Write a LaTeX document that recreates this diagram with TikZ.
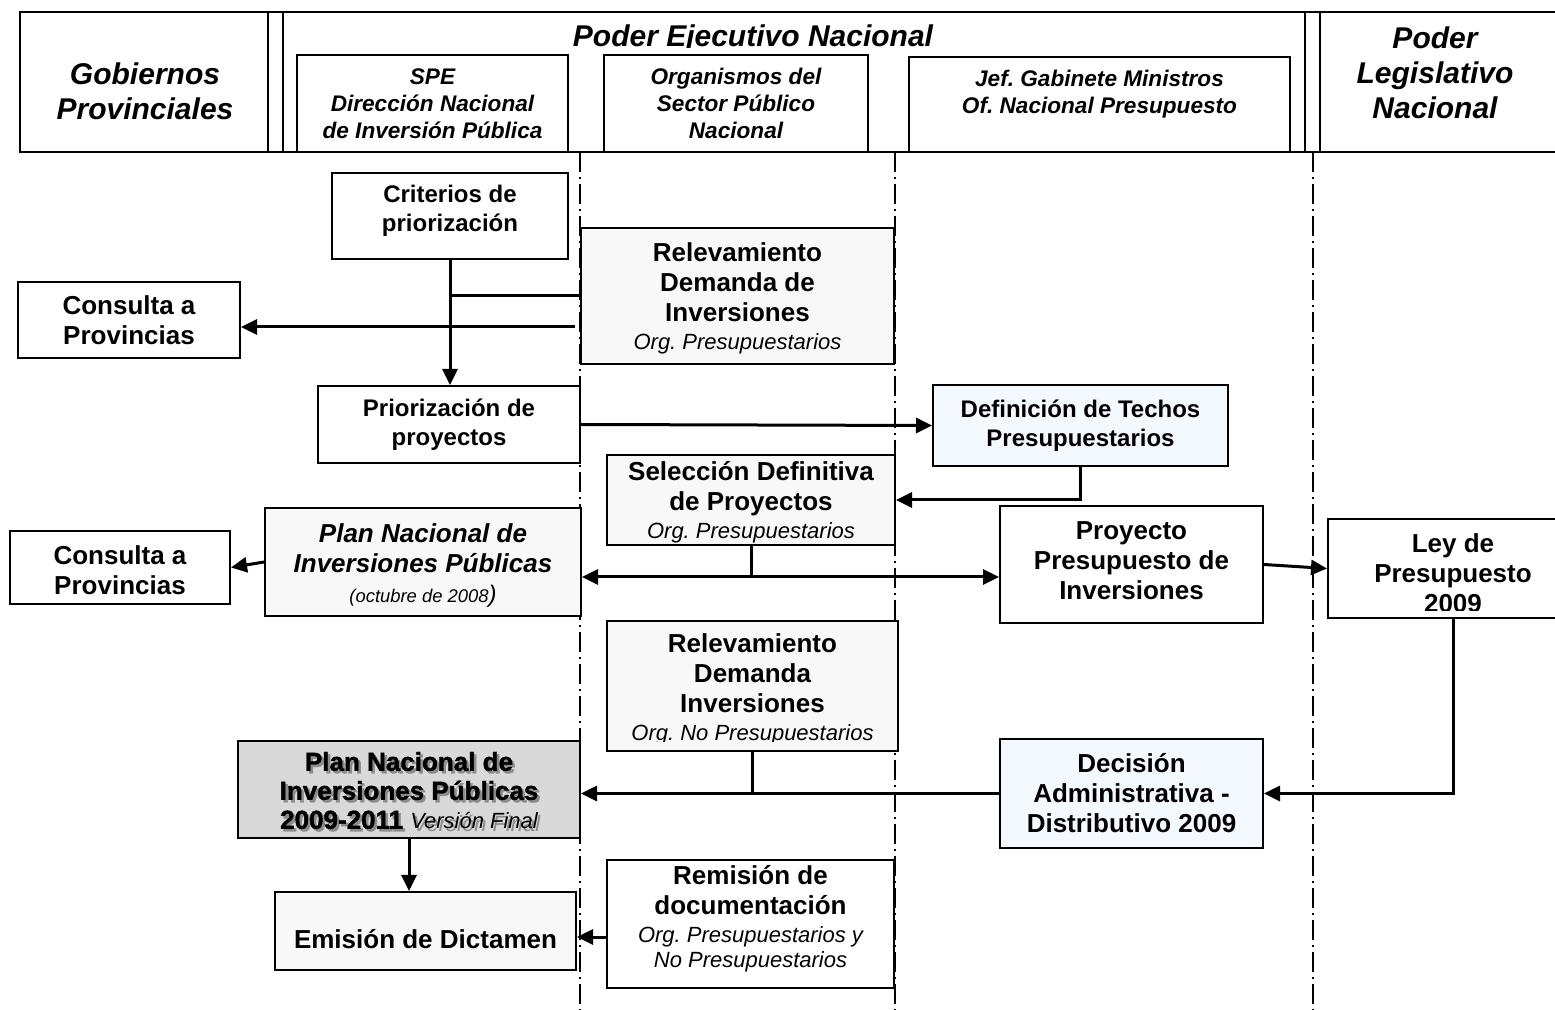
\documentclass[tikz,border=0pt]{standalone}
\usepackage{fontspec}
\setmainfont{Liberation Sans}
\newfontfamily\heavyfont[BoldFeatures={FakeBold=1.5}]{Liberation Sans}
\usetikzlibrary{arrows.meta,calc}
\definecolor{lgray}{RGB}{248,248,248}
\definecolor{lblue}{RGB}{244,249,255}
\definecolor{mgray}{RGB}{217,217,217}
\newcommand\fB{\fontsize{13}{15}\selectfont\bfseries}
\newcommand\fC{\fontsize{12}{14.5}\selectfont\bfseries}
\newcommand\fI{\fontsize{11}{14}\selectfont\mdseries\itshape}
\newcommand\fH{\fontsize{15}{17.5}\selectfont\bfseries\itshape}
\newcommand\fS{\fontsize{11.3}{13.5}\selectfont\bfseries\itshape}
\newcommand\fX{\heavyfont\fontsize{13}{14.5}\selectfont\bfseries}
\frenchspacing
\begin{document}
\frenchspacing
\begin{tikzpicture}[x=0.5pt,y=-0.5pt,
  box/.style={draw, line width=1pt, inner sep=0pt, align=center, font=\fB},
  conn/.style={line width=1.5pt},
  arr/.style={conn, -{Triangle[length=8pt,width=7.5pt]}},
  arrboth/.style={conn, {Triangle[length=8pt,width=7.5pt]}-{Triangle[length=8pt,width=7.5pt]}},
  lane/.style={line width=0.7pt, dash pattern=on 10pt off 2.5pt on 1pt off 2.5pt},
  hdr/.style={line width=1pt},
  txt/.style={inner sep=0pt, align=center, font=\fB}]
\useasboundingbox (0,0) rectangle (1555,1010);
\fill[white] (0,0) rectangle (1555,1010);

% swimlane separators
\coordinate (la1) at (580,152); \coordinate (lb1) at (580,1010);
\coordinate (la2) at (895,152); \coordinate (lb2) at (895,1010);
\coordinate (la3) at (1313,152); \coordinate (lb3) at (1313,1010);
\draw[lane] (la1) -- (lb1);
\draw[lane] (la2) -- (lb2);
\draw[lane] (la3) -- (lb3);

% header frame
\draw[hdr] (1560,12) -- (20,12) -- (20,152) -- (1560,152);
\draw[hdr] (268,12) -- (268,152);
\draw[hdr] (283,12) -- (283,152);
\draw[hdr] (1305,12) -- (1305,152);
\draw[hdr] (1320,12) -- (1320,152);

\node[txt, font=\fH] (gob) at (145,91) {Gobiernos\\Provinciales};
\node[txt, font=\fH] (pln) at (1435,73) {Poder\\Legislativo\\Nacional};
\begin{scope}
  \clip (283,12) rectangle (1305,48);
  \node[txt, font=\fH, anchor=base] (pen) at (753,47) {Poder Ejecutivo Nacional};
\end{scope}

\node[box, font=\fS, minimum width=135.5pt, minimum height=48.5pt] (spe) at (432.5,103.5) {SPE\\Dirección Nacional\\de Inversión Pública};
\node[box, font=\fS, minimum width=132pt, minimum height=48.5pt] (org) at (736,103.5) {Organismos del\\Sector Público\\Nacional};
\node[box, minimum width=190.5pt, minimum height=47.5pt] (jef) at (1099.5,104.5) {};
\node[txt, font=\fS] (jeft) at (1099.5,94) {Jef. Gabinete Ministros\\Of. Nacional Presupuesto};

% boxes
\node[box, fill=white, minimum width=118pt, minimum height=43pt] (crit) at (450,216) {};
\node[txt, font=\fC] (critt) at (450,211) {Criterios de\\priorización};
\node[box, fill=lgray, minimum width=156.5pt, minimum height=68pt] (rel1) at (737.5,296) {};
\node[txt] (rel1t) at (737.5,298) {Relevamiento\\Demanda de\\Inversiones\\[-1pt]{\fI Org. Presupuestarios}};
\node[box, fill=white, minimum width=111pt, minimum height=38pt] (cons1) at (129,320) {Consulta a\\Provincias};
\node[box, font=\fC, fill=white, minimum width=131pt, minimum height=38.5pt] (prio) at (449,424.5) {Priorización de\\proyectos};
\node[box, font=\fC, fill=lblue, minimum width=147.5pt, minimum height=40.5pt] (defi) at (1080.5,425.5) {Definición de Techos\\Presupuestarios};
\node[box, fill=lgray, minimum width=144pt, minimum height=45pt] (sel) at (751,500) {};
\node[txt] (selt) at (751,502) {Selección Definitiva\\de Proyectos\\[-1pt]{\fI Org. Presupuestarios}};
\node[box, fill=lgray, minimum width=158pt, minimum height=54pt] (plan1) at (423,562) {};
\node[txt] (plan1t) at (423,566) {{\itshape Plan Nacional de}\\{\itshape Inversiones Públicas}\\{\fontsize{9.2}{14}\selectfont\mdseries\itshape (octubre de 2008}{\fontsize{12}{14}\selectfont\mdseries\itshape )}};
\node[box, fill=white, minimum width=110pt, minimum height=36.5pt] (cons2) at (120,567.5) {};
\node[txt] (cons2t) at (120,570) {Consulta a\\Provincias};
\node[box, fill=white, minimum width=131.5pt, minimum height=58.5pt] (proy) at (1131.5,564.5) {};
\node[txt] (proyt) at (1131.5,561) {Proyecto\\Presupuesto de\\Inversiones};
\node[box, fill=white, minimum width=125pt, minimum height=49.5pt] (ley) at (1453,568.5) {};
\begin{scope}
  \clip (1328,519) rectangle (1560,611);
  \node[txt] (leyt) at (1453,573) {Ley de\\Presupuesto\\2009};
\end{scope}
\node[box, fill=lgray, minimum width=145.5pt, minimum height=65pt] (rel2) at (752.5,686) {};
\begin{scope}
  \clip (607,621) rectangle (898,742);
  \node[txt] (rel2t) at (752.5,689) {Relevamiento\\Demanda\\Inversiones\\[-1pt]{\fI Org. No Presupuestarios}};
\end{scope}
\node[box, fill=mgray, minimum width=171pt, minimum height=48.5pt] (planF) at (409,789.5) {};
\node[txt, font=\fX, text=black!45] (planFs) at ($(planF.center)+(2.5,3.5)$) {Plan Nacional de\\Inversiones Públicas\\2009-2011 {\fI Versión Final}};
\node[txt, font=\fX] (planFt) at ($(planF.center)+(0,1)$) {Plan Nacional de\\Inversiones Públicas\\2009-2011 {\fI Versión Final}};
\node[box, fill=lblue, minimum width=131.5pt, minimum height=54.5pt] (deci) at (1131.5,793.5) {Decisión\\Administrativa -\\Distributivo 2009};
\node[box, fill=lgray, minimum width=150.5pt, minimum height=39pt] (emis) at (425.5,931) {};
\node[txt] (emist) at (425.5,939) {Emisión de Dictamen};
\node[box, fill=white, minimum width=143.5pt, minimum height=64pt] (remi) at (750.5,924) {};
\node[txt] (remit) at (750.5,919) {Remisión de\\documentación\\[-1pt]{\fI Org. Presupuestarios y}\\[-2.5pt]{\fI No Presupuestarios}};

% connectors
\draw[arr] (crit.south) -- (crit.south |- prio.north);
\draw[conn] (rel1.west) -- (rel1.west -| crit.south);
\coordinate (c1) at ($(rel1.west)+(-5,31)$);
\draw[arr] (c1) -- (c1 -| cons1.east);
\draw[arr] (prio.east) -- (defi.west);
\draw[arr] (defi.south) |- (sel.east);
\draw[conn] (sel.south) -- ++(0,31) coordinate (j1);
\draw[arrboth] (j1 -| plan1.east) -- (j1 -| proy.west);
\draw[arr] (plan1.west) -- (cons2.east);
\draw[arr] (proy.east) -- (ley.west);
\draw[arr] (ley.south) |- (deci.east);
\draw[arr] (deci.west) -- (deci.west -| planF.east);
\draw[conn] (rel2.south) -- (rel2.south |- deci.west);
\draw[arr] (planF.south) -- (planF.south |- emis.north);
\coordinate (c2) at ($(emis.east)+(0,6)$);
\draw[arr] (c2 -| remi.west) -- (c2);
\end{tikzpicture}
\end{document}
